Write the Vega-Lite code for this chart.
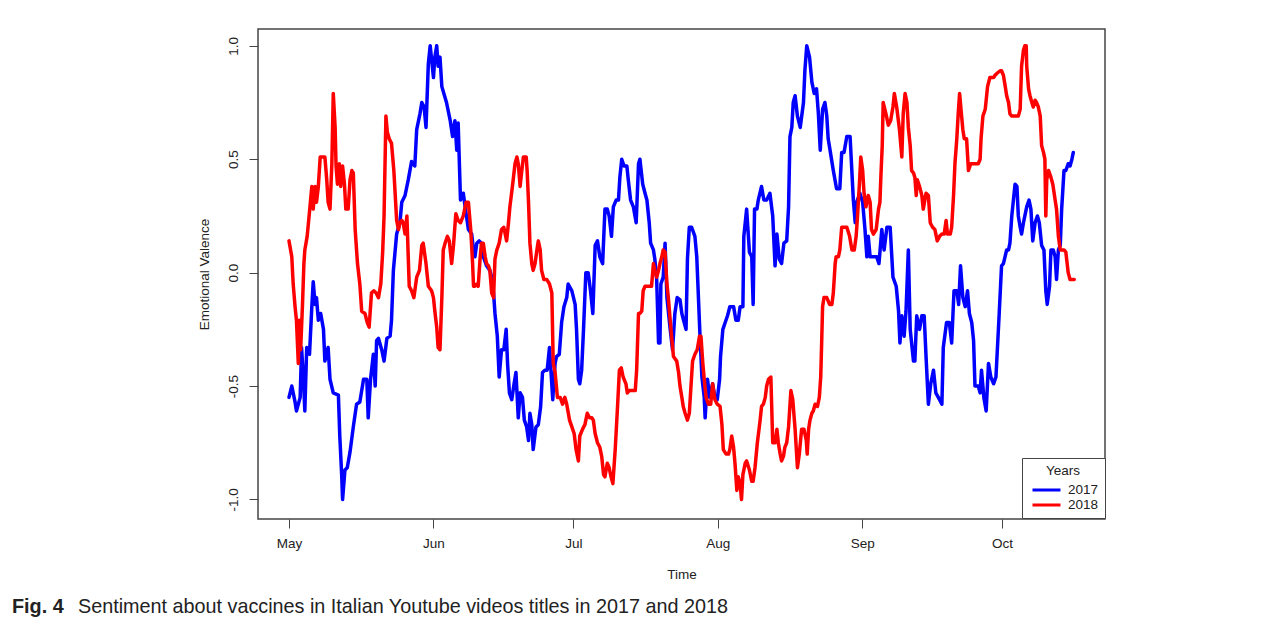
{
"$schema": "https://vega.github.io/schema/vega-lite/v6.json",
"width": 847, "height": 490,
"autosize": {"type": "none"},
"padding": {"left": 258, "top": 29, "right": 179, "bottom": 103},
"background": "white",
"title": {"text": "Fig. 4", "subtitle": "\u200b\u00a0\u00a0\u00a0\u00a0\u00a0\u00a0\u00a0\u00a0\u00a0\u00a0\u00a0\u00a0Sentiment about vaccines in Italian Youtube videos titles in 2017 and 2018", "orient": "bottom", "anchor": "start", "frame": "group", "dx": -246, "offset": 16, "font": "Liberation Sans", "fontSize": 19.8, "fontWeight": "bold", "color": "#222", "subtitleFont": "Liberation Sans", "subtitleFontSize": 19.8, "subtitleFontWeight": "normal", "subtitleColor": "#222", "subtitlePadding": -19.8},
"data": {"values": [
{"year":"2017","day":0.0,"valence":-0.55},{"year":"2017","day":0.6,"valence":-0.50},{"year":"2017","day":1.3,"valence":-0.57},{"year":"2017","day":1.6,"valence":-0.61},{"year":"2017","day":2.4,"valence":-0.55},{"year":"2017","day":2.7,"valence":-0.33},{"year":"2017","day":3.1,"valence":-0.47},{"year":"2017","day":3.4,"valence":-0.61},{"year":"2017","day":3.8,"valence":-0.33},{"year":"2017","day":4.4,"valence":-0.36},{"year":"2017","day":4.9,"valence":-0.15},{"year":"2017","day":5.2,"valence":-0.04},{"year":"2017","day":5.6,"valence":-0.14},{"year":"2017","day":5.9,"valence":-0.11},{"year":"2017","day":6.3,"valence":-0.21},{"year":"2017","day":6.8,"valence":-0.18},{"year":"2017","day":7.4,"valence":-0.25},{"year":"2017","day":7.7,"valence":-0.39},{"year":"2017","day":8.4,"valence":-0.33},{"year":"2017","day":8.8,"valence":-0.47},{"year":"2017","day":9.5,"valence":-0.53},{"year":"2017","day":10.6,"valence":-0.54},{"year":"2017","day":10.9,"valence":-0.72},{"year":"2017","day":11.3,"valence":-0.89},{"year":"2017","day":11.5,"valence":-1.0},{"year":"2017","day":12.0,"valence":-0.87},{"year":"2017","day":12.5,"valence":-0.86},{"year":"2017","day":13.1,"valence":-0.79},{"year":"2017","day":13.8,"valence":-0.68},{"year":"2017","day":14.5,"valence":-0.58},{"year":"2017","day":15.2,"valence":-0.57},{"year":"2017","day":16.0,"valence":-0.47},{"year":"2017","day":16.7,"valence":-0.47},{"year":"2017","day":17.0,"valence":-0.64},{"year":"2017","day":17.5,"valence":-0.47},{"year":"2017","day":18.1,"valence":-0.36},{"year":"2017","day":18.5,"valence":-0.50},{"year":"2017","day":18.8,"valence":-0.30},{"year":"2017","day":19.2,"valence":-0.29},{"year":"2017","day":19.9,"valence":-0.34},{"year":"2017","day":20.4,"valence":-0.39},{"year":"2017","day":21.0,"valence":-0.29},{"year":"2017","day":21.7,"valence":-0.28},{"year":"2017","day":22.0,"valence":-0.21},{"year":"2017","day":22.4,"valence":0.01},{"year":"2017","day":23.1,"valence":0.17},{"year":"2017","day":23.8,"valence":0.22},{"year":"2017","day":24.2,"valence":0.31},{"year":"2017","day":24.9,"valence":0.34},{"year":"2017","day":25.6,"valence":0.41},{"year":"2017","day":26.3,"valence":0.49},{"year":"2017","day":27.0,"valence":0.47},{"year":"2017","day":27.4,"valence":0.63},{"year":"2017","day":28.1,"valence":0.70},{"year":"2017","day":28.5,"valence":0.75},{"year":"2017","day":29.0,"valence":0.73},{"year":"2017","day":29.4,"valence":0.64},{"year":"2017","day":29.9,"valence":0.92},{"year":"2017","day":30.3,"valence":1.0},{"year":"2017","day":30.6,"valence":0.94},{"year":"2017","day":31.0,"valence":0.86},{"year":"2017","day":31.3,"valence":0.95},{"year":"2017","day":31.7,"valence":1.0},{"year":"2017","day":32.0,"valence":0.91},{"year":"2017","day":32.4,"valence":0.95},{"year":"2017","day":32.8,"valence":0.82},{"year":"2017","day":33.8,"valence":0.75},{"year":"2017","day":34.6,"valence":0.67},{"year":"2017","day":35.1,"valence":0.60},{"year":"2017","day":35.6,"valence":0.67},{"year":"2017","day":36.0,"valence":0.54},{"year":"2017","day":36.3,"valence":0.66},{"year":"2017","day":36.8,"valence":0.32},{"year":"2017","day":37.4,"valence":0.35},{"year":"2017","day":37.8,"valence":0.29},{"year":"2017","day":38.5,"valence":0.19},{"year":"2017","day":39.2,"valence":0.17},{"year":"2017","day":39.6,"valence":0.10},{"year":"2017","day":39.9,"valence":0.07},{"year":"2017","day":40.3,"valence":0.13},{"year":"2017","day":40.8,"valence":0.14},{"year":"2017","day":41.3,"valence":0.13},{"year":"2017","day":41.7,"valence":0.07},{"year":"2017","day":42.4,"valence":0.03},{"year":"2017","day":43.1,"valence":0.01},{"year":"2017","day":43.5,"valence":-0.02},{"year":"2017","day":43.9,"valence":-0.09},{"year":"2017","day":44.2,"valence":-0.18},{"year":"2017","day":44.7,"valence":-0.28},{"year":"2017","day":45.1,"valence":-0.46},{"year":"2017","day":45.6,"valence":-0.34},{"year":"2017","day":46.1,"valence":-0.34},{"year":"2017","day":46.6,"valence":-0.25},{"year":"2017","day":46.9,"valence":-0.40},{"year":"2017","day":47.3,"valence":-0.53},{"year":"2017","day":47.8,"valence":-0.56},{"year":"2017","day":48.3,"valence":-0.49},{"year":"2017","day":48.7,"valence":-0.44},{"year":"2017","day":49.2,"valence":-0.64},{"year":"2017","day":49.6,"valence":-0.53},{"year":"2017","day":50.1,"valence":-0.55},{"year":"2017","day":50.5,"valence":-0.65},{"year":"2017","day":51.0,"valence":-0.68},{"year":"2017","day":51.4,"valence":-0.74},{"year":"2017","day":51.7,"valence":-0.62},{"year":"2017","day":52.1,"valence":-0.67},{"year":"2017","day":52.4,"valence":-0.78},{"year":"2017","day":53.0,"valence":-0.68},{"year":"2017","day":53.5,"valence":-0.67},{"year":"2017","day":54.0,"valence":-0.59},{"year":"2017","day":54.4,"valence":-0.44},{"year":"2017","day":54.9,"valence":-0.43},{"year":"2017","day":55.4,"valence":-0.43},{"year":"2017","day":55.9,"valence":-0.33},{"year":"2017","day":56.2,"valence":-0.43},{"year":"2017","day":56.6,"valence":-0.56},{"year":"2017","day":57.1,"valence":-0.40},{"year":"2017","day":57.4,"valence":-0.37},{"year":"2017","day":58.0,"valence":-0.36},{"year":"2017","day":58.5,"valence":-0.22},{"year":"2017","day":59.0,"valence":-0.15},{"year":"2017","day":59.6,"valence":-0.11},{"year":"2017","day":59.9,"valence":-0.05},{"year":"2017","day":60.7,"valence":-0.08},{"year":"2017","day":61.4,"valence":-0.14},{"year":"2017","day":61.7,"valence":-0.25},{"year":"2017","day":62.1,"valence":-0.47},{"year":"2017","day":62.4,"valence":-0.49},{"year":"2017","day":62.8,"valence":-0.43},{"year":"2017","day":63.2,"valence":-0.25},{"year":"2017","day":63.7,"valence":0.0},{"year":"2017","day":64.2,"valence":0.0},{"year":"2017","day":64.7,"valence":-0.08},{"year":"2017","day":65.2,"valence":-0.18},{"year":"2017","day":65.7,"valence":0.12},{"year":"2017","day":66.2,"valence":0.14},{"year":"2017","day":66.7,"valence":0.07},{"year":"2017","day":67.3,"valence":0.04},{"year":"2017","day":67.8,"valence":0.28},{"year":"2017","day":68.3,"valence":0.28},{"year":"2017","day":68.7,"valence":0.25},{"year":"2017","day":69.2,"valence":0.16},{"year":"2017","day":69.6,"valence":0.29},{"year":"2017","day":70.2,"valence":0.32},{"year":"2017","day":70.7,"valence":0.32},{"year":"2017","day":71.0,"valence":0.42},{"year":"2017","day":71.4,"valence":0.50},{"year":"2017","day":71.9,"valence":0.47},{"year":"2017","day":72.5,"valence":0.47},{"year":"2017","day":72.8,"valence":0.41},{"year":"2017","day":73.3,"valence":0.32},{"year":"2017","day":73.9,"valence":0.29},{"year":"2017","day":74.5,"valence":0.22},{"year":"2017","day":75.0,"valence":0.48},{"year":"2017","day":75.3,"valence":0.50},{"year":"2017","day":75.9,"valence":0.39},{"year":"2017","day":76.4,"valence":0.35},{"year":"2017","day":76.8,"valence":0.32},{"year":"2017","day":77.3,"valence":0.22},{"year":"2017","day":77.6,"valence":0.13},{"year":"2017","day":78.2,"valence":0.10},{"year":"2017","day":78.5,"valence":0.06},{"year":"2017","day":78.9,"valence":-0.03},{"year":"2017","day":79.3,"valence":-0.31},{"year":"2017","day":79.6,"valence":-0.31},{"year":"2017","day":79.8,"valence":-0.05},{"year":"2017","day":80.3,"valence":-0.02},{"year":"2017","day":80.7,"valence":0.13},{"year":"2017","day":81.1,"valence":-0.11},{"year":"2017","day":81.8,"valence":-0.25},{"year":"2017","day":82.3,"valence":-0.34},{"year":"2017","day":82.8,"valence":-0.18},{"year":"2017","day":83.3,"valence":-0.11},{"year":"2017","day":83.9,"valence":-0.12},{"year":"2017","day":84.3,"valence":-0.18},{"year":"2017","day":84.8,"valence":-0.22},{"year":"2017","day":85.2,"valence":-0.25},{"year":"2017","day":85.5,"valence":0.06},{"year":"2017","day":85.9,"valence":0.20},{"year":"2017","day":86.4,"valence":0.20},{"year":"2017","day":87.1,"valence":0.16},{"year":"2017","day":87.5,"valence":0.07},{"year":"2017","day":88.2,"valence":-0.28},{"year":"2017","day":88.6,"valence":-0.46},{"year":"2017","day":89.1,"valence":-0.55},{"year":"2017","day":89.3,"valence":-0.64},{"year":"2017","day":89.8,"valence":-0.47},{"year":"2017","day":90.3,"valence":-0.55},{"year":"2017","day":90.9,"valence":-0.49},{"year":"2017","day":91.4,"valence":-0.55},{"year":"2017","day":91.9,"valence":-0.56},{"year":"2017","day":92.4,"valence":-0.47},{"year":"2017","day":92.6,"valence":-0.37},{"year":"2017","day":93.1,"valence":-0.25},{"year":"2017","day":93.6,"valence":-0.22},{"year":"2017","day":94.1,"valence":-0.19},{"year":"2017","day":94.6,"valence":-0.15},{"year":"2017","day":95.4,"valence":-0.15},{"year":"2017","day":95.9,"valence":-0.21},{"year":"2017","day":96.4,"valence":-0.21},{"year":"2017","day":96.8,"valence":-0.15},{"year":"2017","day":97.4,"valence":-0.15},{"year":"2017","day":97.6,"valence":0.16},{"year":"2017","day":98.2,"valence":0.28},{"year":"2017","day":98.8,"valence":0.09},{"year":"2017","day":99.3,"valence":0.07},{"year":"2017","day":99.6,"valence":-0.14},{"year":"2017","day":99.9,"valence":0.28},{"year":"2017","day":100.4,"valence":0.28},{"year":"2017","day":100.7,"valence":0.32},{"year":"2017","day":101.4,"valence":0.38},{"year":"2017","day":101.9,"valence":0.32},{"year":"2017","day":102.5,"valence":0.32},{"year":"2017","day":103.2,"valence":0.35},{"year":"2017","day":103.8,"valence":0.25},{"year":"2017","day":104.3,"valence":0.03},{"year":"2017","day":104.7,"valence":0.17},{"year":"2017","day":105.2,"valence":0.06},{"year":"2017","day":105.7,"valence":0.04},{"year":"2017","day":106.2,"valence":0.13},{"year":"2017","day":106.8,"valence":0.14},{"year":"2017","day":107.2,"valence":0.29},{"year":"2017","day":107.5,"valence":0.60},{"year":"2017","day":107.9,"valence":0.64},{"year":"2017","day":108.2,"valence":0.75},{"year":"2017","day":108.6,"valence":0.78},{"year":"2017","day":109.1,"valence":0.69},{"year":"2017","day":109.7,"valence":0.64},{"year":"2017","day":110.4,"valence":0.75},{"year":"2017","day":110.7,"valence":0.89},{"year":"2017","day":111.1,"valence":1.0},{"year":"2017","day":111.7,"valence":0.95},{"year":"2017","day":112.2,"valence":0.84},{"year":"2017","day":112.7,"valence":0.79},{"year":"2017","day":113.2,"valence":0.81},{"year":"2017","day":113.6,"valence":0.70},{"year":"2017","day":114.0,"valence":0.54},{"year":"2017","day":114.5,"valence":0.72},{"year":"2017","day":115.0,"valence":0.75},{"year":"2017","day":115.4,"valence":0.69},{"year":"2017","day":115.7,"valence":0.59},{"year":"2017","day":116.1,"valence":0.54},{"year":"2017","day":116.8,"valence":0.45},{"year":"2017","day":117.5,"valence":0.37},{"year":"2017","day":118.2,"valence":0.37},{"year":"2017","day":118.6,"valence":0.53},{"year":"2017","day":119.1,"valence":0.53},{"year":"2017","day":119.7,"valence":0.60},{"year":"2017","day":120.4,"valence":0.60},{"year":"2017","day":120.8,"valence":0.44},{"year":"2017","day":121.1,"valence":0.32},{"year":"2017","day":121.5,"valence":0.22},{"year":"2017","day":121.8,"valence":0.31},{"year":"2017","day":122.5,"valence":0.35},{"year":"2017","day":123.1,"valence":0.31},{"year":"2017","day":123.6,"valence":0.19},{"year":"2017","day":124.0,"valence":0.07},{"year":"2017","day":124.3,"valence":0.16},{"year":"2017","day":124.7,"valence":0.07},{"year":"2017","day":125.4,"valence":0.07},{"year":"2017","day":126.1,"valence":0.07},{"year":"2017","day":126.6,"valence":0.04},{"year":"2017","day":127.2,"valence":0.19},{"year":"2017","day":127.7,"valence":0.10},{"year":"2017","day":128.3,"valence":0.20},{"year":"2017","day":129.0,"valence":0.20},{"year":"2017","day":129.6,"valence":-0.02},{"year":"2017","day":130.3,"valence":-0.06},{"year":"2017","day":130.8,"valence":-0.17},{"year":"2017","day":131.1,"valence":-0.31},{"year":"2017","day":131.5,"valence":-0.19},{"year":"2017","day":132.0,"valence":-0.28},{"year":"2017","day":132.4,"valence":-0.17},{"year":"2017","day":132.9,"valence":0.10},{"year":"2017","day":133.3,"valence":-0.25},{"year":"2017","day":134.0,"valence":-0.39},{"year":"2017","day":134.3,"valence":-0.39},{"year":"2017","day":134.7,"valence":-0.19},{"year":"2017","day":135.3,"valence":-0.25},{"year":"2017","day":135.8,"valence":-0.19},{"year":"2017","day":136.3,"valence":-0.19},{"year":"2017","day":136.7,"valence":-0.37},{"year":"2017","day":137.2,"valence":-0.58},{"year":"2017","day":137.7,"valence":-0.49},{"year":"2017","day":138.3,"valence":-0.43},{"year":"2017","day":138.8,"valence":-0.53},{"year":"2017","day":139.6,"valence":-0.56},{"year":"2017","day":140.1,"valence":-0.58},{"year":"2017","day":140.4,"valence":-0.33},{"year":"2017","day":141.1,"valence":-0.22},{"year":"2017","day":141.7,"valence":-0.22},{"year":"2017","day":142.2,"valence":-0.31},{"year":"2017","day":142.7,"valence":-0.08},{"year":"2017","day":143.3,"valence":-0.08},{"year":"2017","day":143.7,"valence":-0.14},{"year":"2017","day":144.1,"valence":0.03},{"year":"2017","day":144.6,"valence":-0.11},{"year":"2017","day":145.1,"valence":-0.15},{"year":"2017","day":145.6,"valence":-0.08},{"year":"2017","day":146.0,"valence":-0.18},{"year":"2017","day":146.5,"valence":-0.22},{"year":"2017","day":146.9,"valence":-0.30},{"year":"2017","day":147.2,"valence":-0.50},{"year":"2017","day":147.9,"valence":-0.50},{"year":"2017","day":148.3,"valence":-0.53},{"year":"2017","day":148.6,"valence":-0.43},{"year":"2017","day":149.1,"valence":-0.55},{"year":"2017","day":149.6,"valence":-0.61},{"year":"2017","day":150.1,"valence":-0.40},{"year":"2017","day":150.6,"valence":-0.46},{"year":"2017","day":151.2,"valence":-0.49},{"year":"2017","day":151.7,"valence":-0.46},{"year":"2017","day":152.4,"valence":-0.18},{"year":"2017","day":152.9,"valence":0.03},{"year":"2017","day":153.3,"valence":0.04},{"year":"2017","day":154.0,"valence":0.10},{"year":"2017","day":154.4,"valence":0.10},{"year":"2017","day":154.7,"valence":0.13},{"year":"2017","day":155.1,"valence":0.25},{"year":"2017","day":155.8,"valence":0.39},{"year":"2017","day":156.2,"valence":0.38},{"year":"2017","day":156.5,"valence":0.25},{"year":"2017","day":156.9,"valence":0.20},{"year":"2017","day":157.2,"valence":0.17},{"year":"2017","day":157.6,"valence":0.22},{"year":"2017","day":157.9,"valence":0.25},{"year":"2017","day":158.3,"valence":0.29},{"year":"2017","day":158.8,"valence":0.32},{"year":"2017","day":159.2,"valence":0.28},{"year":"2017","day":159.6,"valence":0.14},{"year":"2017","day":160.1,"valence":0.22},{"year":"2017","day":160.6,"valence":0.25},{"year":"2017","day":161.0,"valence":0.22},{"year":"2017","day":161.5,"valence":0.12},{"year":"2017","day":162.0,"valence":0.10},{"year":"2017","day":162.4,"valence":-0.08},{"year":"2017","day":162.7,"valence":-0.14},{"year":"2017","day":163.2,"valence":-0.06},{"year":"2017","day":163.5,"valence":0.10},{"year":"2017","day":164.0,"valence":0.10},{"year":"2017","day":164.4,"valence":0.07},{"year":"2017","day":164.7,"valence":-0.03},{"year":"2017","day":165.1,"valence":0.10},{"year":"2017","day":165.5,"valence":0.12},{"year":"2017","day":165.8,"valence":0.28},{"year":"2017","day":166.3,"valence":0.45},{"year":"2017","day":166.7,"valence":0.45},{"year":"2017","day":167.2,"valence":0.48},{"year":"2017","day":167.6,"valence":0.47},{"year":"2017","day":168.0,"valence":0.50},{"year":"2017","day":168.3,"valence":0.53},
{"year":"2018","day":0.0,"valence":0.14},{"year":"2018","day":0.6,"valence":0.07},{"year":"2018","day":0.9,"valence":-0.05},{"year":"2018","day":1.3,"valence":-0.15},{"year":"2018","day":1.6,"valence":-0.21},{"year":"2018","day":2.0,"valence":-0.40},{"year":"2018","day":2.2,"valence":-0.21},{"year":"2018","day":2.5,"valence":-0.34},{"year":"2018","day":2.9,"valence":-0.14},{"year":"2018","day":3.2,"valence":0.04},{"year":"2018","day":3.4,"valence":0.10},{"year":"2018","day":3.9,"valence":0.16},{"year":"2018","day":4.5,"valence":0.29},{"year":"2018","day":4.9,"valence":0.38},{"year":"2018","day":5.2,"valence":0.28},{"year":"2018","day":5.6,"valence":0.38},{"year":"2018","day":5.9,"valence":0.31},{"year":"2018","day":6.3,"valence":0.38},{"year":"2018","day":6.7,"valence":0.51},{"year":"2018","day":7.2,"valence":0.51},{"year":"2018","day":7.7,"valence":0.51},{"year":"2018","day":8.1,"valence":0.41},{"year":"2018","day":8.4,"valence":0.31},{"year":"2018","day":8.8,"valence":0.28},{"year":"2018","day":9.2,"valence":0.48},{"year":"2018","day":9.5,"valence":0.79},{"year":"2018","day":9.9,"valence":0.64},{"year":"2018","day":10.1,"valence":0.47},{"year":"2018","day":10.4,"valence":0.39},{"year":"2018","day":10.8,"valence":0.48},{"year":"2018","day":11.1,"valence":0.38},{"year":"2018","day":11.5,"valence":0.47},{"year":"2018","day":11.9,"valence":0.39},{"year":"2018","day":12.2,"valence":0.28},{"year":"2018","day":12.7,"valence":0.28},{"year":"2018","day":13.1,"valence":0.41},{"year":"2018","day":13.5,"valence":0.45},{"year":"2018","day":13.8,"valence":0.44},{"year":"2018","day":14.2,"valence":0.19},{"year":"2018","day":14.7,"valence":0.04},{"year":"2018","day":15.2,"valence":-0.05},{"year":"2018","day":15.6,"valence":-0.17},{"year":"2018","day":16.3,"valence":-0.18},{"year":"2018","day":16.8,"valence":-0.22},{"year":"2018","day":17.2,"valence":-0.24},{"year":"2018","day":17.7,"valence":-0.09},{"year":"2018","day":18.2,"valence":-0.08},{"year":"2018","day":18.7,"valence":-0.09},{"year":"2018","day":19.2,"valence":-0.11},{"year":"2018","day":19.7,"valence":-0.05},{"year":"2018","day":20.1,"valence":0.09},{"year":"2018","day":20.4,"valence":0.25},{"year":"2018","day":20.8,"valence":0.69},{"year":"2018","day":21.1,"valence":0.62},{"year":"2018","day":21.5,"valence":0.59},{"year":"2018","day":22.0,"valence":0.57},{"year":"2018","day":22.5,"valence":0.45},{"year":"2018","day":23.1,"valence":0.23},{"year":"2018","day":23.5,"valence":0.19},{"year":"2018","day":23.8,"valence":0.22},{"year":"2018","day":24.2,"valence":0.23},{"year":"2018","day":24.5,"valence":0.22},{"year":"2018","day":24.9,"valence":0.17},{"year":"2018","day":25.3,"valence":0.25},{"year":"2018","day":25.8,"valence":-0.06},{"year":"2018","day":26.3,"valence":-0.08},{"year":"2018","day":26.8,"valence":-0.11},{"year":"2018","day":27.4,"valence":-0.02},{"year":"2018","day":28.0,"valence":0.01},{"year":"2018","day":28.5,"valence":0.12},{"year":"2018","day":28.8,"valence":0.13},{"year":"2018","day":29.4,"valence":0.04},{"year":"2018","day":29.9,"valence":-0.06},{"year":"2018","day":30.6,"valence":-0.08},{"year":"2018","day":31.0,"valence":-0.11},{"year":"2018","day":31.3,"valence":-0.17},{"year":"2018","day":31.7,"valence":-0.24},{"year":"2018","day":32.0,"valence":-0.33},{"year":"2018","day":32.4,"valence":-0.34},{"year":"2018","day":32.8,"valence":-0.11},{"year":"2018","day":33.1,"valence":0.10},{"year":"2018","day":33.5,"valence":0.13},{"year":"2018","day":34.0,"valence":0.16},{"year":"2018","day":34.4,"valence":0.14},{"year":"2018","day":34.9,"valence":0.04},{"year":"2018","day":35.3,"valence":0.12},{"year":"2018","day":35.8,"valence":0.26},{"year":"2018","day":36.3,"valence":0.23},{"year":"2018","day":36.8,"valence":0.22},{"year":"2018","day":37.4,"valence":0.25},{"year":"2018","day":38.0,"valence":0.31},{"year":"2018","day":38.5,"valence":0.31},{"year":"2018","day":39.0,"valence":0.19},{"year":"2018","day":39.4,"valence":0.04},{"year":"2018","day":39.6,"valence":-0.06},{"year":"2018","day":39.9,"valence":-0.06},{"year":"2018","day":40.3,"valence":-0.05},{"year":"2018","day":40.6,"valence":-0.06},{"year":"2018","day":41.0,"valence":0.06},{"year":"2018","day":41.3,"valence":0.13},{"year":"2018","day":41.7,"valence":0.13},{"year":"2018","day":42.1,"valence":0.07},{"year":"2018","day":42.4,"valence":0.04},{"year":"2018","day":42.8,"valence":0.03},{"year":"2018","day":43.1,"valence":0.01},{"year":"2018","day":43.5,"valence":-0.09},{"year":"2018","day":43.9,"valence":-0.11},{"year":"2018","day":44.2,"valence":0.06},{"year":"2018","day":44.6,"valence":0.10},{"year":"2018","day":45.1,"valence":0.13},{"year":"2018","day":45.6,"valence":0.19},{"year":"2018","day":46.1,"valence":0.20},{"year":"2018","day":46.7,"valence":0.14},{"year":"2018","day":47.1,"valence":0.22},{"year":"2018","day":47.4,"valence":0.29},{"year":"2018","day":48.0,"valence":0.39},{"year":"2018","day":48.5,"valence":0.48},{"year":"2018","day":48.9,"valence":0.51},{"year":"2018","day":49.2,"valence":0.48},{"year":"2018","day":49.6,"valence":0.38},{"year":"2018","day":49.9,"valence":0.44},{"year":"2018","day":50.3,"valence":0.51},{"year":"2018","day":50.9,"valence":0.51},{"year":"2018","day":51.1,"valence":0.45},{"year":"2018","day":51.4,"valence":0.31},{"year":"2018","day":51.7,"valence":0.13},{"year":"2018","day":52.1,"valence":0.04},{"year":"2018","day":52.4,"valence":0.01},{"year":"2018","day":52.8,"valence":0.04},{"year":"2018","day":53.2,"valence":0.10},{"year":"2018","day":53.5,"valence":0.14},{"year":"2018","day":53.9,"valence":0.10},{"year":"2018","day":54.2,"valence":0.01},{"year":"2018","day":54.7,"valence":-0.03},{"year":"2018","day":55.3,"valence":-0.03},{"year":"2018","day":55.9,"valence":-0.05},{"year":"2018","day":56.4,"valence":-0.09},{"year":"2018","day":56.7,"valence":-0.40},{"year":"2018","day":57.1,"valence":-0.44},{"year":"2018","day":57.6,"valence":-0.55},{"year":"2018","day":58.2,"valence":-0.55},{"year":"2018","day":58.7,"valence":-0.58},{"year":"2018","day":59.2,"valence":-0.55},{"year":"2018","day":59.6,"valence":-0.58},{"year":"2018","day":60.2,"valence":-0.65},{"year":"2018","day":60.7,"valence":-0.68},{"year":"2018","day":61.2,"valence":-0.71},{"year":"2018","day":61.6,"valence":-0.78},{"year":"2018","day":62.1,"valence":-0.83},{"year":"2018","day":62.4,"valence":-0.72},{"year":"2018","day":63.0,"valence":-0.69},{"year":"2018","day":63.5,"valence":-0.67},{"year":"2018","day":64.0,"valence":-0.62},{"year":"2018","day":64.5,"valence":-0.64},{"year":"2018","day":65.0,"valence":-0.64},{"year":"2018","day":65.3,"valence":-0.65},{"year":"2018","day":65.7,"valence":-0.71},{"year":"2018","day":66.2,"valence":-0.75},{"year":"2018","day":66.7,"valence":-0.77},{"year":"2018","day":67.1,"valence":-0.81},{"year":"2018","day":67.5,"valence":-0.89},{"year":"2018","day":67.8,"valence":-0.90},{"year":"2018","day":68.3,"valence":-0.84},{"year":"2018","day":68.7,"valence":-0.86},{"year":"2018","day":69.1,"valence":-0.90},{"year":"2018","day":69.5,"valence":-0.93},{"year":"2018","day":70.0,"valence":-0.78},{"year":"2018","day":70.5,"valence":-0.59},{"year":"2018","day":70.9,"valence":-0.43},{"year":"2018","day":71.3,"valence":-0.42},{"year":"2018","day":71.7,"valence":-0.46},{"year":"2018","day":72.3,"valence":-0.49},{"year":"2018","day":72.6,"valence":-0.53},{"year":"2018","day":73.0,"valence":-0.52},{"year":"2018","day":73.5,"valence":-0.52},{"year":"2018","day":74.3,"valence":-0.52},{"year":"2018","day":74.6,"valence":-0.43},{"year":"2018","day":75.0,"valence":-0.18},{"year":"2018","day":75.3,"valence":-0.18},{"year":"2018","day":75.7,"valence":-0.17},{"year":"2018","day":76.0,"valence":-0.08},{"year":"2018","day":76.4,"valence":-0.06},{"year":"2018","day":77.1,"valence":-0.06},{"year":"2018","day":77.8,"valence":-0.06},{"year":"2018","day":78.2,"valence":0.04},{"year":"2018","day":78.5,"valence":0.01},{"year":"2018","day":78.9,"valence":-0.02},{"year":"2018","day":79.3,"valence":0.01},{"year":"2018","day":79.6,"valence":0.04},{"year":"2018","day":80.0,"valence":0.07},{"year":"2018","day":80.3,"valence":0.10},{"year":"2018","day":80.7,"valence":0.09},{"year":"2018","day":81.1,"valence":-0.05},{"year":"2018","day":81.4,"valence":-0.11},{"year":"2018","day":81.8,"valence":-0.21},{"year":"2018","day":82.1,"valence":-0.28},{"year":"2018","day":82.5,"valence":-0.37},{"year":"2018","day":83.2,"valence":-0.39},{"year":"2018","day":83.6,"valence":-0.44},{"year":"2018","day":83.9,"valence":-0.50},{"year":"2018","day":84.3,"valence":-0.55},{"year":"2018","day":84.6,"valence":-0.59},{"year":"2018","day":85.0,"valence":-0.62},{"year":"2018","day":85.5,"valence":-0.65},{"year":"2018","day":85.9,"valence":-0.62},{"year":"2018","day":86.2,"valence":-0.52},{"year":"2018","day":86.6,"valence":-0.39},{"year":"2018","day":87.1,"valence":-0.36},{"year":"2018","day":87.6,"valence":-0.34},{"year":"2018","day":88.1,"valence":-0.28},{"year":"2018","day":88.4,"valence":-0.28},{"year":"2018","day":88.8,"valence":-0.40},{"year":"2018","day":89.1,"valence":-0.47},{"year":"2018","day":89.5,"valence":-0.55},{"year":"2018","day":90.0,"valence":-0.58},{"year":"2018","day":90.5,"valence":-0.58},{"year":"2018","day":90.9,"valence":-0.49},{"year":"2018","day":91.4,"valence":-0.56},{"year":"2018","day":91.9,"valence":-0.58},{"year":"2018","day":92.5,"valence":-0.59},{"year":"2018","day":92.9,"valence":-0.67},{"year":"2018","day":93.2,"valence":-0.78},{"year":"2018","day":93.8,"valence":-0.80},{"year":"2018","day":94.3,"valence":-0.80},{"year":"2018","day":94.6,"valence":-0.78},{"year":"2018","day":95.0,"valence":-0.72},{"year":"2018","day":95.4,"valence":-0.77},{"year":"2018","day":95.7,"valence":-0.84},{"year":"2018","day":96.1,"valence":-0.96},{"year":"2018","day":96.4,"valence":-0.90},{"year":"2018","day":96.8,"valence":-0.93},{"year":"2018","day":97.1,"valence":-1.0},{"year":"2018","day":97.4,"valence":-0.89},{"year":"2018","day":97.9,"valence":-0.84},{"year":"2018","day":98.2,"valence":-0.83},{"year":"2018","day":98.8,"valence":-0.87},{"year":"2018","day":99.3,"valence":-0.92},{"year":"2018","day":99.6,"valence":-0.92},{"year":"2018","day":100.0,"valence":-0.86},{"year":"2018","day":100.5,"valence":-0.75},{"year":"2018","day":101.1,"valence":-0.65},{"year":"2018","day":101.4,"valence":-0.59},{"year":"2018","day":101.8,"valence":-0.58},{"year":"2018","day":102.2,"valence":-0.55},{"year":"2018","day":102.5,"valence":-0.50},{"year":"2018","day":102.9,"valence":-0.47},{"year":"2018","day":103.4,"valence":-0.46},{"year":"2018","day":103.8,"valence":-0.75},{"year":"2018","day":104.3,"valence":-0.75},{"year":"2018","day":104.7,"valence":-0.69},{"year":"2018","day":105.0,"valence":-0.75},{"year":"2018","day":105.4,"valence":-0.80},{"year":"2018","day":105.7,"valence":-0.83},{"year":"2018","day":106.1,"valence":-0.81},{"year":"2018","day":106.4,"valence":-0.77},{"year":"2018","day":106.8,"valence":-0.75},{"year":"2018","day":107.2,"valence":-0.68},{"year":"2018","day":107.7,"valence":-0.52},{"year":"2018","day":108.1,"valence":-0.56},{"year":"2018","day":108.6,"valence":-0.69},{"year":"2018","day":109.1,"valence":-0.86},{"year":"2018","day":109.5,"valence":-0.80},{"year":"2018","day":110.0,"valence":-0.69},{"year":"2018","day":110.5,"valence":-0.69},{"year":"2018","day":111.0,"valence":-0.74},{"year":"2018","day":111.2,"valence":-0.80},{"year":"2018","day":111.5,"valence":-0.69},{"year":"2018","day":111.8,"valence":-0.65},{"year":"2018","day":112.2,"valence":-0.62},{"year":"2018","day":112.5,"valence":-0.61},{"year":"2018","day":112.9,"valence":-0.58},{"year":"2018","day":113.4,"valence":-0.59},{"year":"2018","day":113.8,"valence":-0.55},{"year":"2018","day":114.1,"valence":-0.46},{"year":"2018","day":114.3,"valence":-0.31},{"year":"2018","day":114.5,"valence":-0.15},{"year":"2018","day":114.8,"valence":-0.11},{"year":"2018","day":115.4,"valence":-0.11},{"year":"2018","day":116.0,"valence":-0.14},{"year":"2018","day":116.5,"valence":-0.14},{"year":"2018","day":116.8,"valence":-0.09},{"year":"2018","day":117.2,"valence":0.04},{"year":"2018","day":117.4,"valence":0.07},{"year":"2018","day":117.9,"valence":0.07},{"year":"2018","day":118.2,"valence":0.10},{"year":"2018","day":118.6,"valence":0.20},{"year":"2018","day":119.0,"valence":0.20},{"year":"2018","day":119.7,"valence":0.20},{"year":"2018","day":120.3,"valence":0.16},{"year":"2018","day":120.8,"valence":0.10},{"year":"2018","day":121.3,"valence":0.10},{"year":"2018","day":121.7,"valence":0.16},{"year":"2018","day":122.0,"valence":0.25},{"year":"2018","day":122.4,"valence":0.39},{"year":"2018","day":122.7,"valence":0.51},{"year":"2018","day":123.1,"valence":0.45},{"year":"2018","day":123.4,"valence":0.35},{"year":"2018","day":123.8,"valence":0.29},{"year":"2018","day":124.3,"valence":0.34},{"year":"2018","day":124.7,"valence":0.31},{"year":"2018","day":125.0,"valence":0.19},{"year":"2018","day":125.4,"valence":0.17},{"year":"2018","day":126.0,"valence":0.19},{"year":"2018","day":126.5,"valence":0.28},{"year":"2018","day":126.8,"valence":0.31},{"year":"2018","day":127.0,"valence":0.42},{"year":"2018","day":127.3,"valence":0.56},{"year":"2018","day":127.5,"valence":0.75},{"year":"2018","day":128.1,"valence":0.70},{"year":"2018","day":128.6,"valence":0.65},{"year":"2018","day":129.1,"valence":0.67},{"year":"2018","day":129.6,"valence":0.73},{"year":"2018","day":129.9,"valence":0.79},{"year":"2018","day":130.4,"valence":0.73},{"year":"2018","day":131.0,"valence":0.63},{"year":"2018","day":131.5,"valence":0.51},{"year":"2018","day":131.8,"valence":0.70},{"year":"2018","day":132.2,"valence":0.79},{"year":"2018","day":132.6,"valence":0.75},{"year":"2018","day":132.9,"valence":0.64},{"year":"2018","day":133.3,"valence":0.56},{"year":"2018","day":133.6,"valence":0.45},{"year":"2018","day":134.0,"valence":0.44},{"year":"2018","day":134.3,"valence":0.42},{"year":"2018","day":134.6,"valence":0.34},{"year":"2018","day":134.8,"valence":0.41},{"year":"2018","day":135.3,"valence":0.38},{"year":"2018","day":135.8,"valence":0.34},{"year":"2018","day":136.1,"valence":0.28},{"year":"2018","day":136.7,"valence":0.35},{"year":"2018","day":137.2,"valence":0.34},{"year":"2018","day":137.6,"valence":0.22},{"year":"2018","day":138.1,"valence":0.20},{"year":"2018","day":138.6,"valence":0.19},{"year":"2018","day":139.1,"valence":0.14},{"year":"2018","day":139.6,"valence":0.16},{"year":"2018","day":140.1,"valence":0.17},{"year":"2018","day":140.6,"valence":0.17},{"year":"2018","day":141.0,"valence":0.23},{"year":"2018","day":141.3,"valence":0.17},{"year":"2018","day":141.9,"valence":0.17},{"year":"2018","day":142.2,"valence":0.20},{"year":"2018","day":142.6,"valence":0.34},{"year":"2018","day":142.9,"valence":0.48},{"year":"2018","day":143.3,"valence":0.59},{"year":"2018","day":143.6,"valence":0.70},{"year":"2018","day":143.9,"valence":0.79},{"year":"2018","day":144.2,"valence":0.72},{"year":"2018","day":144.6,"valence":0.63},{"year":"2018","day":144.9,"valence":0.59},{"year":"2018","day":145.4,"valence":0.59},{"year":"2018","day":145.8,"valence":0.45},{"year":"2018","day":146.3,"valence":0.48},{"year":"2018","day":146.9,"valence":0.48},{"year":"2018","day":147.4,"valence":0.48},{"year":"2018","day":147.9,"valence":0.48},{"year":"2018","day":148.3,"valence":0.50},{"year":"2018","day":148.5,"valence":0.59},{"year":"2018","day":148.9,"valence":0.69},{"year":"2018","day":149.4,"valence":0.72},{"year":"2018","day":149.9,"valence":0.82},{"year":"2018","day":150.4,"valence":0.86},{"year":"2018","day":151.2,"valence":0.86},{"year":"2018","day":151.5,"valence":0.87},{"year":"2018","day":152.0,"valence":0.88},{"year":"2018","day":152.6,"valence":0.89},{"year":"2018","day":152.9,"valence":0.89},{"year":"2018","day":153.3,"valence":0.87},{"year":"2018","day":153.7,"valence":0.82},{"year":"2018","day":154.0,"valence":0.78},{"year":"2018","day":154.4,"valence":0.75},{"year":"2018","day":154.7,"valence":0.70},{"year":"2018","day":155.1,"valence":0.69},{"year":"2018","day":155.8,"valence":0.69},{"year":"2018","day":156.5,"valence":0.69},{"year":"2018","day":156.9,"valence":0.72},{"year":"2018","day":157.2,"valence":0.91},{"year":"2018","day":157.6,"valence":0.98},{"year":"2018","day":157.9,"valence":1.0},{"year":"2018","day":158.2,"valence":1.0},{"year":"2018","day":158.3,"valence":0.91},{"year":"2018","day":158.7,"valence":0.81},{"year":"2018","day":159.0,"valence":0.78},{"year":"2018","day":159.4,"valence":0.75},{"year":"2018","day":159.7,"valence":0.73},{"year":"2018","day":160.1,"valence":0.76},{"year":"2018","day":160.4,"valence":0.75},{"year":"2018","day":160.8,"valence":0.73},{"year":"2018","day":161.2,"valence":0.69},{"year":"2018","day":161.5,"valence":0.56},{"year":"2018","day":161.9,"valence":0.53},{"year":"2018","day":162.2,"valence":0.50},{"year":"2018","day":162.4,"valence":0.25},{"year":"2018","day":162.6,"valence":0.41},{"year":"2018","day":163.0,"valence":0.45},{"year":"2018","day":163.5,"valence":0.42},{"year":"2018","day":163.9,"valence":0.39},{"year":"2018","day":164.4,"valence":0.32},{"year":"2018","day":164.7,"valence":0.28},{"year":"2018","day":165.1,"valence":0.16},{"year":"2018","day":165.5,"valence":0.10},{"year":"2018","day":165.8,"valence":0.10},{"year":"2018","day":166.3,"valence":0.10},{"year":"2018","day":166.7,"valence":0.09},{"year":"2018","day":167.2,"valence":0.0},{"year":"2018","day":167.6,"valence":-0.03},{"year":"2018","day":168.5,"valence":-0.03}
]},
"mark": {"type": "line", "strokeWidth": 3.5, "strokeJoin": "round", "strokeCap": "round", "clip": true},
"encoding": {
  "x": {"field": "day", "type": "quantitative", "scale": {"domain": [-6.65, 175.1], "nice": false, "zero": false},
        "axis": {"title": "Time", "values": [0, 31, 61, 92, 123, 153], "labelExpr": "datum.value == 0 ? 'May' : datum.value == 31 ? 'Jun' : datum.value == 61 ? 'Jul' : datum.value == 92 ? 'Aug' : datum.value == 123 ? 'Sep' : 'Oct'", "grid": false, "domain": false, "tickSize": 9, "labelPadding": 8, "titlePadding": 18}},
  "y": {"field": "valence", "type": "quantitative", "scale": {"domain": [-1.086, 1.074], "nice": false, "zero": false},
        "axis": {"title": "Emotional Valence", "values": [-1, -0.5, 0, 0.5, 1], "labelExpr": "replace(format(datum.value, '.1f'), '\u2212', '-')", "labelAngle": -90, "labelAlign": "center", "labelBaseline": "bottom", "grid": false, "domain": false, "tickSize": 9, "labelPadding": 9, "titlePadding": 15}},
  "color": {"field": "year", "type": "nominal", "scale": {"domain": ["2017", "2018"], "range": ["#0000ff", "#ff0000"]},
        "legend": {"title": "Years", "orient": "none", "legendX": 764, "legendY": 429, "strokeColor": "#444", "fillColor": "white", "padding": 6, "symbolType": "M-2,0H2", "symbolSize": 196, "symbolStrokeWidth": 3, "symbolOffset": 10, "titleFont": "Liberation Sans", "titleFontSize": 13.5, "titleFontWeight": "normal", "titleColor": "#222", "titleAnchor": "middle", "titlePadding": 4, "labelFont": "Liberation Sans", "labelFontSize": 13.5, "labelColor": "#222", "rowPadding": 0, "labelOffset": 13}}
},
"config": {
  "view": {"stroke": "#444", "strokeWidth": 1.5},
  "axis": {"labelFont": "Liberation Sans", "titleFont": "Liberation Sans", "labelFontSize": 13.5, "titleFontSize": 13.5, "titleFontWeight": "normal", "labelColor": "#222", "titleColor": "#222", "tickColor": "#444", "tickWidth": 1}
}
}
